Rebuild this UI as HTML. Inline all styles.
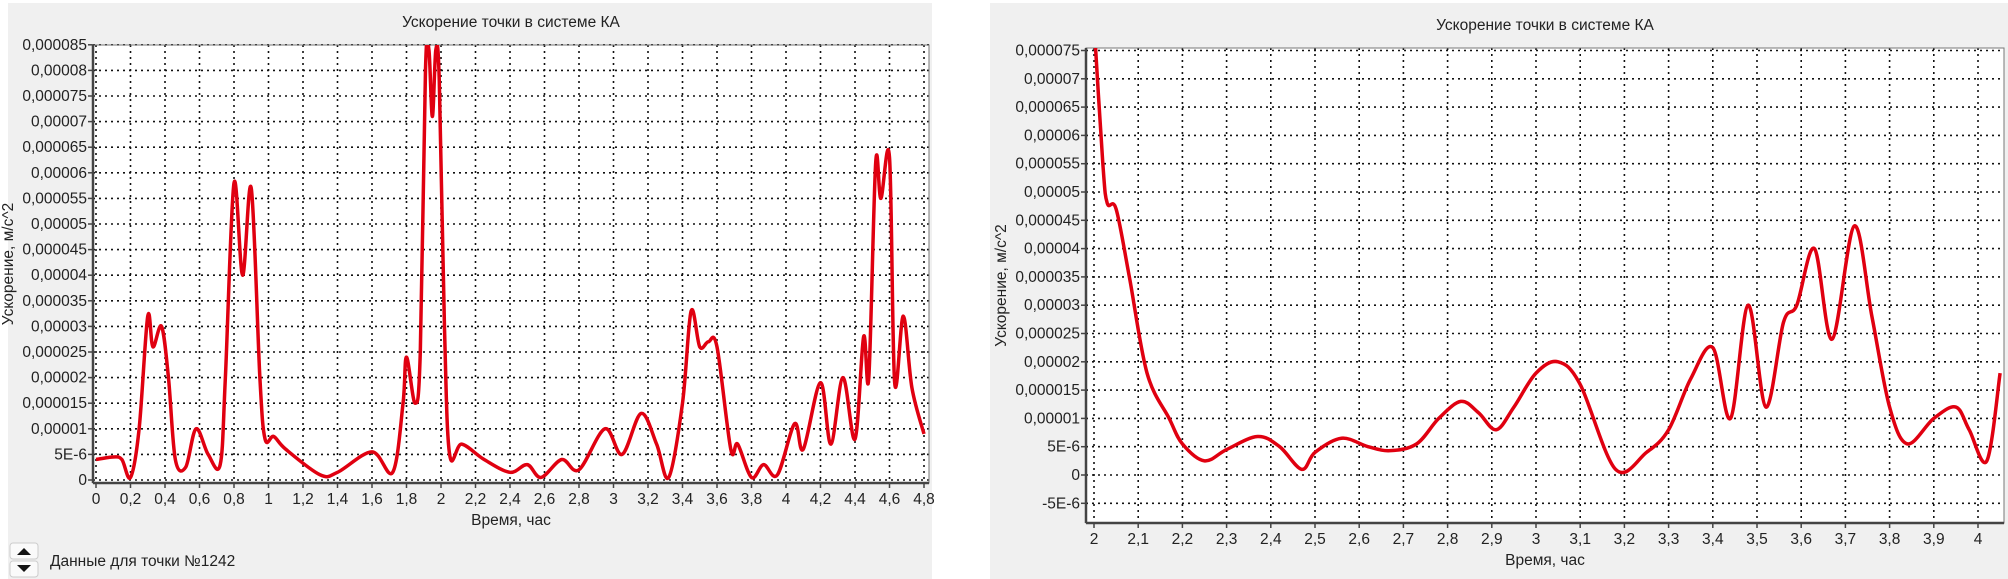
<!DOCTYPE html>
<html><head><meta charset="utf-8">
<style>
body{margin:0;width:2008px;height:579px;background:#fff;overflow:hidden;font-family:"Liberation Sans","DejaVu Sans",sans-serif;}
svg{position:absolute;left:0;top:0}
</style></head>
<body>
<svg id="s" width="2008" height="579" xmlns="http://www.w3.org/2000/svg" font-family="Liberation Sans, DejaVu Sans, sans-serif">
<rect x="8" y="3" width="924" height="576" fill="#f0f0f0"/>
<rect x="990" y="3" width="1018" height="576" fill="#f0f0f0"/>
<g id="g"></g>
<rect x="10" y="543" width="28" height="16" rx="3" fill="#fafafa" stroke="#ccc"/>
<rect x="10" y="561" width="28" height="16" rx="3" fill="#fafafa" stroke="#ccc"/>
<path d="M17 555 L31 555 L24 548 Z" fill="#111"/>
<path d="M17 565 L31 565 L24 572 Z" fill="#111"/>
<text x="50" y="566" font-size="15.5" fill="#222">Данные для точки №1242</text>
</svg>
<script>
const NS="http://www.w3.org/2000/svg",G=document.getElementById('g');
function el(t,a,txt){const e=document.createElementNS(NS,t);for(const k in a)e.setAttribute(k,a[k]);if(txt!==undefined)e.textContent=txt;G.appendChild(e);return e;}
function fmt(v){if(v===0)return"0";if(Math.abs(v-5)<1e-9)return"5E-6";if(Math.abs(v+5)<1e-9)return"-5E-6";let s=(v*1e-6).toFixed(6).replace(/0+$/,'').replace('.',',');return s;}
function chart(c){
 const X=t=>c.x0+(t-c.t0)*c.kx, Y=v=>c.y0-v*c.ky;
 el('rect',{x:c.L,y:c.T,width:c.R-c.L,height:c.B-c.T,fill:'#fff'});
 el('text',{x:(c.L+c.R)/2,y:c.T-18,'font-size':15.5,'text-anchor':'middle',fill:'#222'},'Ускорение точки в системе КА');
 for(let i=0;;i++){const t=c.t0+i*c.dt;const x=X(t);if(x>c.R+1)break;
  el('line',{x1:x,y1:c.T,x2:x,y2:c.B,stroke:'#111','stroke-width':1.6,'stroke-dasharray':'2,4'});
  el('line',{x1:x,y1:c.B,x2:x,y2:c.B+5,stroke:'#444','stroke-width':1.5});
  let lab=(Math.round(t*10)/10).toString().replace('.',',');
  el('text',{x:x,y:c.B+21,'font-size':15.5,'text-anchor':'middle',fill:'#222'},lab);}
 for(let v=c.vmin;v<=c.vmax+0.01;v+=5){const y=Y(v);
  el('line',{x1:c.L,y1:y,x2:c.R,y2:y,stroke:'#111','stroke-width':1.6,'stroke-dasharray':'2,4'});
  el('line',{x1:c.L-5,y1:y,x2:c.L,y2:y,stroke:'#444','stroke-width':1.5});
  el('text',{x:c.L-6,y:y+5,'font-size':15.5,'text-anchor':'end',fill:'#222'},fmt(v));}
 el('rect',{x:c.L,y:c.T,width:c.R-c.L,height:c.B-c.T,fill:'none',stroke:'#777','stroke-width':1});
 el('line',{x1:c.L,y1:c.T,x2:c.L,y2:c.B,stroke:'#444','stroke-width':2.5});
 el('line',{x1:c.L,y1:c.B,x2:c.R,y2:c.B,stroke:'#444','stroke-width':2.5});
 el('text',{x:(c.L+c.R)/2,y:c.B+42,'font-size':15.5,'text-anchor':'middle',fill:'#222'},'Время, час');
 const yc=(c.T+c.B)/2;
 el('text',{x:c.L-80,y:yc,'font-size':15.5,'text-anchor':'middle',fill:'#222',transform:`rotate(-90 ${c.L-80} ${yc})`},'Ускорение, м/с^2');
 const p=c.d.map(a=>[X(a[0]),Y(a[1])]);
 let d='M'+p[0][0]+' '+p[0][1];
 for(let i=0;i<p.length-1;i++){const p0=p[i-1]||p[i],p1=p[i],p2=p[i+1],p3=p[i+2]||p2;
  const c1=[p1[0]+(p2[0]-p0[0])/6,p1[1]+(p2[1]-p0[1])/6],c2=[p2[0]-(p3[0]-p1[0])/6,p2[1]-(p3[1]-p1[1])/6];
  d+=` C${c1[0]} ${c1[1]} ${c2[0]} ${c2[1]} ${p2[0]} ${p2[1]}`;}
 const cp=document.createElementNS(NS,'clipPath');cp.id='c'+c.L;const r=document.createElementNS(NS,'rect');
 r.setAttribute('x',c.L);r.setAttribute('y',c.T);r.setAttribute('width',c.R-c.L);r.setAttribute('height',c.B-c.T);cp.appendChild(r);G.appendChild(cp);
 el('path',{d:d,fill:'none',stroke:'#e00010','stroke-width':3.5,'stroke-linejoin':'round','clip-path':`url(#c${c.L})`});
}
chart({L:93,R:929,T:45,B:483,x0:96,t0:0,kx:172.5,dt:0.2,y0:480,ky:5.12,vmin:0,vmax:85,d:[
[0,4],[0.1,4.5],[0.15,4],[0.2,0.5],[0.25,10],[0.3,32],[0.33,26],[0.38,30],[0.42,20],[0.46,4],[0.52,2.5],[0.58,10],[0.65,5],[0.72,3],[0.75,20],[0.8,58],[0.85,40],[0.9,57],[0.95,20],[0.98,8],[1.03,8.5],[1.1,6],[1.3,1],[1.4,1.5],[1.6,5.5],[1.72,1.5],[1.78,15],[1.8,24],[1.85,15],[1.88,25],[1.91,80],[1.93,84],[1.95,71],[1.97,84],[1.99,78],[2.02,30],[2.05,5],[2.12,7],[2.25,4],[2.4,1.5],[2.5,3],[2.58,0.5],[2.7,4],[2.8,2],[2.95,10],[3.05,5],[3.16,13],[3.25,7],[3.32,0.5],[3.4,15],[3.45,33],[3.5,26],[3.55,27],[3.6,26],[3.68,6],[3.72,7],[3.8,0.5],[3.87,3],[3.95,1],[4.05,11],[4.1,6],[4.2,19],[4.26,7],[4.33,20],[4.4,8],[4.45,28],[4.48,20],[4.52,62],[4.55,55],[4.6,63],[4.63,19],[4.68,32],[4.73,18],[4.8,9]]});
chart({L:1086,R:2004,T:48,B:523,x0:1094,t0:2,kx:442,dt:0.1,y0:475,ky:5.66,vmin:-5,vmax:75,d:[
[2.0,80],[2.02,55],[2.03,48],[2.05,47],[2.08,35],[2.12,18],[2.17,10],[2.2,5.5],[2.25,2.5],[2.3,4.5],[2.37,6.8],[2.42,5],[2.47,1],[2.5,4],[2.56,6.5],[2.62,5],[2.67,4.3],[2.73,5.5],[2.78,10],[2.83,13],[2.87,11],[2.91,8],[2.95,12],[3.0,18],[3.05,20],[3.1,16],[3.18,1],[3.25,4],[3.3,8],[3.35,17],[3.4,22.5],[3.44,10],[3.48,30],[3.52,12],[3.56,27],[3.59,30],[3.63,40],[3.67,24],[3.72,44],[3.76,28],[3.8,12],[3.84,5.5],[3.9,10],[3.95,12],[3.98,8],[4.02,2.5],[4.05,18]]});
</script>
</body></html>
